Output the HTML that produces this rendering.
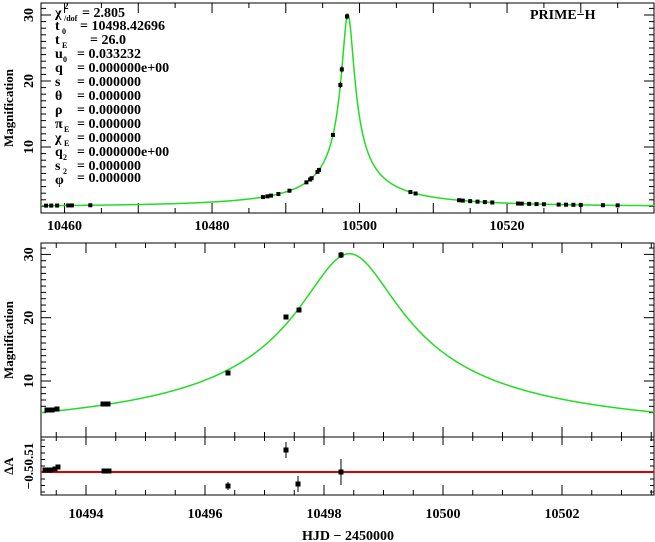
<!DOCTYPE html><html><head><style>body{margin:0;background:#fff}svg{display:block}text{font-family:"Liberation Serif",serif;font-weight:bold;fill:#000}</style></head><body>
<svg id="s" width="655" height="542" xmlns="http://www.w3.org/2000/svg">
<rect x="41" y="3" width="613" height="210" fill="none" stroke="#000"/>
<rect x="41" y="243" width="613" height="252" fill="none" stroke="#000"/>
<line x1="41" y1="437" x2="654" y2="437" stroke="#000"/>
<g id="ticks" stroke="#000"></g>
<path id="c1" fill="none" stroke="#2d2" stroke-width="1.5"/>
<path id="c2" fill="none" stroke="#2d2" stroke-width="1.5"/>
<line x1="41" y1="472" x2="654" y2="472" stroke="#d00" stroke-width="2"/>
<g id="pts" fill="#000" stroke="#000"></g>
<g font-size="14">
<text x="55" y="17">χ</text><text x="64" y="9" font-size="9">2</text><text x="64" y="21" font-size="8">/dof</text><text x="82" y="17">= 2.805</text>
<text x="55" y="30">t</text><text x="62" y="34" font-size="8">0</text><text x="80" y="30">= 10498.42696</text>
<text x="55" y="44">t</text><text x="62" y="48" font-size="8">E</text><text x="90" y="44">= 26.0</text>
<text x="55" y="58">u</text><text x="63" y="62" font-size="8">0</text><text x="77" y="58">= 0.033232</text>
<text x="55" y="72">q</text><text x="77" y="72">= 0.000000e+00</text>
<text x="55" y="86">s</text><text x="77" y="86">= 0.000000</text>
<text x="55" y="100">θ</text><text x="77" y="100">= 0.000000</text>
<text x="55" y="114">ρ</text><text x="77" y="114">= 0.000000</text>
<text x="55" y="128">π</text><text x="64" y="132" font-size="8">E</text><text x="77" y="128">= 0.000000</text>
<text x="55" y="142">χ</text><text x="64" y="146" font-size="8">E</text><text x="77" y="142">= 0.000000</text>
<text x="55" y="156">q</text><text x="63" y="160" font-size="8">2</text><text x="77" y="156">= 0.000000e+00</text>
<text x="55" y="170">s</text><text x="63" y="174" font-size="8">2</text><text x="77" y="170">= 0.000000</text>
<text x="55" y="184">φ</text><text x="77" y="182">= 0.000000</text>
<text x="530" y="19">PRIME−H</text>
</g>
<g font-size="14" text-anchor="middle" id="lbl"></g>
<text x="348" y="540" font-size="14" text-anchor="middle">HJD − 2450000</text>
<text transform="translate(13,108) rotate(-90)" font-size="13" text-anchor="middle">Magnification</text>
<text transform="translate(13,340) rotate(-90)" font-size="13" text-anchor="middle">Magnification</text>
<text transform="translate(13,466) rotate(-90)" font-size="13" text-anchor="middle">ΔA</text>
<text transform="translate(33,466) rotate(-90)" font-size="13" text-anchor="middle">−0.50.51</text>
</svg>
<script>
var ns="http://www.w3.org/2000/svg";
function A(t){var u0=0.033232,tE=26,t0=10498.42696;var tau=(t-t0)/tE,u=Math.sqrt(u0*u0+tau*tau);return (u*u+2)/(u*Math.sqrt(u*u+4));}
var S1=7.375,T1=10456.81;
function X1(t){return 41+(t-T1)*S1}function Y1(m){return 147-(m-10)*6.6}
function X2(t){return 86+(t-10494)*59.5}function Y2(m){return 381-(m-10)*6.33}
var d="",e="";for(var px=41;px<=654;px+=0.5){var t=T1+(px-41)/S1;d+=(d?"L":"M")+px+","+Y1(A(t)).toFixed(2);var t2=10494+(px-86)/59.5;e+=(e?"L":"M")+px+","+Y2(A(t2)).toFixed(2);}
document.getElementById("c1").setAttribute("d",d);document.getElementById("c2").setAttribute("d",e);
var g=document.getElementById("ticks"),L=document.getElementById("lbl"),P=document.getElementById("pts");
function ln(a,b,c,d2){var l=document.createElementNS(ns,"line");l.setAttribute("x1",a);l.setAttribute("y1",b);l.setAttribute("x2",c);l.setAttribute("y2",d2);g.appendChild(l);}
function tx(x,y,s,r){var t=document.createElementNS(ns,"text");t.textContent=s;if(r)t.setAttribute("transform","translate("+x+","+y+") rotate(-90)");else{t.setAttribute("x",x);t.setAttribute("y",y);}L.appendChild(t);}
for(var t=10460;t<=10540;t+=5){var x=X1(t);if(x>654)continue;var big=t%10==0;ln(x,213,x,213-(big?10:5));ln(x,3,x,3+(big?10:5));if(t%20==0)tx(x,230,t);}
for(var m=1;m<=31;m++){var y=Y1(m);if(y<3||y>213)continue;var big=m%10==0;ln(41,y,41+(big?10:5),y);ln(654,y,654-(big?10:5),y);if(big)tx(33,y,m,1);}
for(var t=10493.5;t<=10503.5;t+=0.5){var x=X2(t),big=t%2==0;if(x<41||x>654)continue;ln(x,437,x,437-(big?10:5));ln(x,243,x,243+(big?10:5));ln(x,437,x,437+(big?8:4));ln(x,495,x,495-(big?10:5));if(big)tx(x,518,t);}
for(var m=5;m<=31;m++){var y=Y2(m);if(y<243||y>437)continue;var big=m%10==0;ln(41,y,41+(big?10:5),y);ln(654,y,654-(big?10:5),y);if(big)tx(33,y,m,1);}
for(var y=440;y<495;y+=6.5){ln(41,y,45,y);ln(654,y,650,y);}
function pt(x,y,e,r){var c=document.createElementNS(ns,"rect");r=r||2;c.setAttribute("x",x-r);c.setAttribute("y",y-r);c.setAttribute("width",2*r);c.setAttribute("height",2*r);P.appendChild(c);if(e){var l=document.createElementNS(ns,"line");l.setAttribute("x1",x);l.setAttribute("x2",x);l.setAttribute("y1",y-e);l.setAttribute("y2",y+e);P.appendChild(l);}}
[10457.5,10458.2,10459,10460.5,10461,10463.5,10486.9,10487.5,10488,10489,10490.5,10492.8,10493.3,10493.5,10494.3,10494.5,10496.4,10497.4,10497.6,10498.3,10506.9,10507.6,10513.5,10514,10515,10516,10517,10518,10521.5,10522,10523,10524,10525,10527,10528,10529,10530,10533,10535].forEach(function(t){pt(X1(t),Y1(A(t)),t>10497&&t<10499?3:0,1.5)});
[[47,410],[52,410],[57,409],[103,404],[108,404],[228,373],[286,317],[299,310],[341,255]].forEach(function(p){pt(p[0],p[1],p[0]==341?3:0)});
[[45,470,0],[50,470,0],[55,469,0],[58,467,0],[104,471,0],[109,471,0],[228,486,4],[286,450,8],[298,484,8],[341,472,13]].forEach(function(p){pt(p[0],p[1],p[2])});
</script></body></html>
